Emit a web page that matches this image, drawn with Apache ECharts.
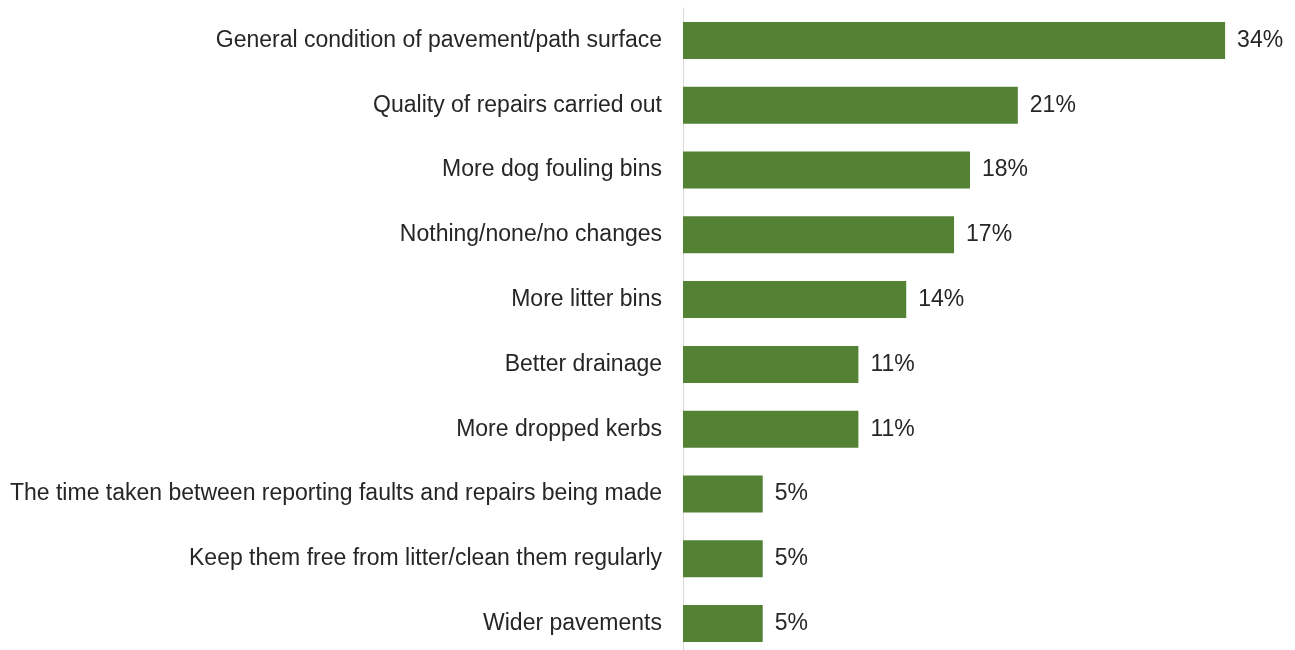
<!DOCTYPE html>
<html>
<head>
<meta charset="utf-8">
<script src="https://cdn.jsdelivr.net/npm/echarts@6/dist/echarts.min.js"></script>
<style>
  html, body { margin: 0; padding: 0; background: #ffffff; overflow: hidden; }
  #chart { width: 1295px; height: 660px; }
</style>
</head>
<body>
<div id="chart"></div>
<script>
// Suggested improvements, top to bottom
const categories = [
  'General condition of pavement/path surface',
  'Quality of repairs carried out',
  'More dog fouling bins',
  'Nothing/none/no changes',
  'More litter bins',
  'Better drainage',
  'More dropped kerbs',
  'The time taken between reporting faults and repairs being made',
  'Keep them free from litter/clean them regularly',
  'Wider pavements'
];
// Share of respondents (%)
const values = [34, 21, 18, 17, 14, 11, 11, 5, 5, 5];

const chart = echarts.init(document.getElementById('chart'), null, { renderer: 'canvas' });

chart.setOption({
  animation: false,
  grid: { left: 683, top: 8, width: 574, height: 648, containLabel: false },
  xAxis: {
    type: 'value',
    min: 0,
    max: 36,
    show: false
  },
  yAxis: {
    type: 'category',
    data: categories,
    inverse: true,
    axisLine: { show: true, lineStyle: { color: '#d9d9d9', width: 1 } },
    axisTick: { show: false },
    axisLabel: {
      margin: 21,
      fontFamily: 'Liberation Sans, Arial, sans-serif',
      fontSize: 23,
      color: '#262626'
    }
  },
  series: [{
    type: 'bar',
    data: values,
    barWidth: 37,
    itemStyle: { color: '#548235' },
    label: {
      show: true,
      position: 'right',
      distance: 12,
      formatter: '{c}%',
      fontFamily: 'Liberation Sans, Arial, sans-serif',
      fontSize: 23,
      color: '#262626'
    }
  }]
});
</script>
</body>
</html>
